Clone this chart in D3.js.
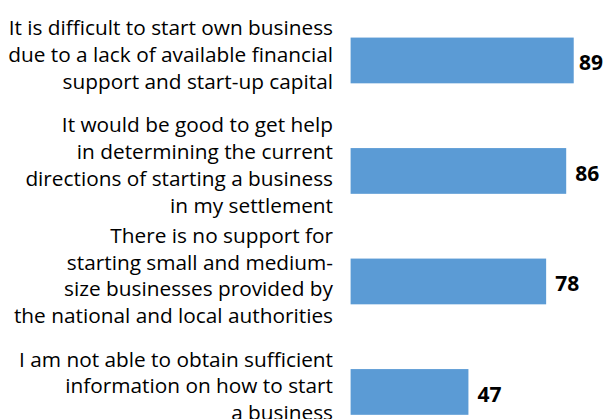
<!DOCTYPE html>
<html>
<head>
<meta charset="utf-8">
<script src="https://cdn.jsdelivr.net/npm/d3@7"></script>
<style>
  html, body { margin: 0; padding: 0; background: #ffffff; }
  svg { display: block; }
  .cat { font-family: "Open Sans", Lato, sans-serif; font-size: 20.8px; fill: #000000; }
  .val { font-family: "Open Sans", Lato, sans-serif; font-size: 21px; font-weight: bold; fill: #000000; }
</style>
</head>
<body>
<svg id="chart" width="606" height="419"></svg>
<script>
// Survey statements (one entry per bar, line breaks as shown)
const categories = [
  "It is difficult to start own business\ndue to a lack of available financial\nsupport and start-up capital",
  "It would be good to get help\nin determining the current\ndirections of starting a business\nin my settlement",
  "There is no support for\nstarting small and medium-\nsize businesses provided by\nthe national and local authorities",
  "I am not able to obtain sufficient\ninformation on how to start\na business"
];
// Share of respondents agreeing, %
const values = [89, 86, 78, 47];

const width = 606, height = 419;
const svg = d3.select("#chart");

const x = d3.scaleLinear().domain([0, 100]).range([350.6, 601.3]);
const y = d3.scaleBand()
  .domain(categories)
  .range([5.2, 447.2])
  .paddingInner(0.586)
  .paddingOuter(0.293);

const barColor = "#5B9BD5";
const lineHeight = 26.7;
const labelRight = 333;

// Bars
svg.append("g")
  .selectAll("rect")
  .data(categories)
  .join("rect")
  .attr("x", x(0))
  .attr("y", d => y(d))
  .attr("width", (d, i) => x(values[i]) - x(0))
  .attr("height", y.bandwidth())
  .attr("fill", barColor);

// Category labels, right-aligned and centred on each bar
svg.append("g")
  .selectAll("text")
  .data(categories)
  .join("text")
  .attr("class", "cat")
  .attr("text-anchor", "end")
  .each(function(d) {
    const lines = d.split("\n");
    const cy = y(d) + y.bandwidth() / 2;
    const first = cy - (lines.length - 1) / 2 * lineHeight + 1.5;
    d3.select(this).selectAll("tspan")
      .data(lines)
      .join("tspan")
      .attr("x", labelRight)
      .attr("y", (l, j) => first + j * lineHeight)
      .text(l => l);
  });

// Value labels at the end of each bar
svg.append("g")
  .selectAll("text")
  .data(categories)
  .join("text")
  .attr("class", "val")
  .attr("y", d => y(d) + y.bandwidth() / 2 + 9.7)
  .text((d, i) => values[i])
  .attr("x", function(d, i) {
    const w = this.getComputedTextLength();
    return Math.min(x(values[i]) + 9, 603 - w);
  });
</script>
</body>
</html>
